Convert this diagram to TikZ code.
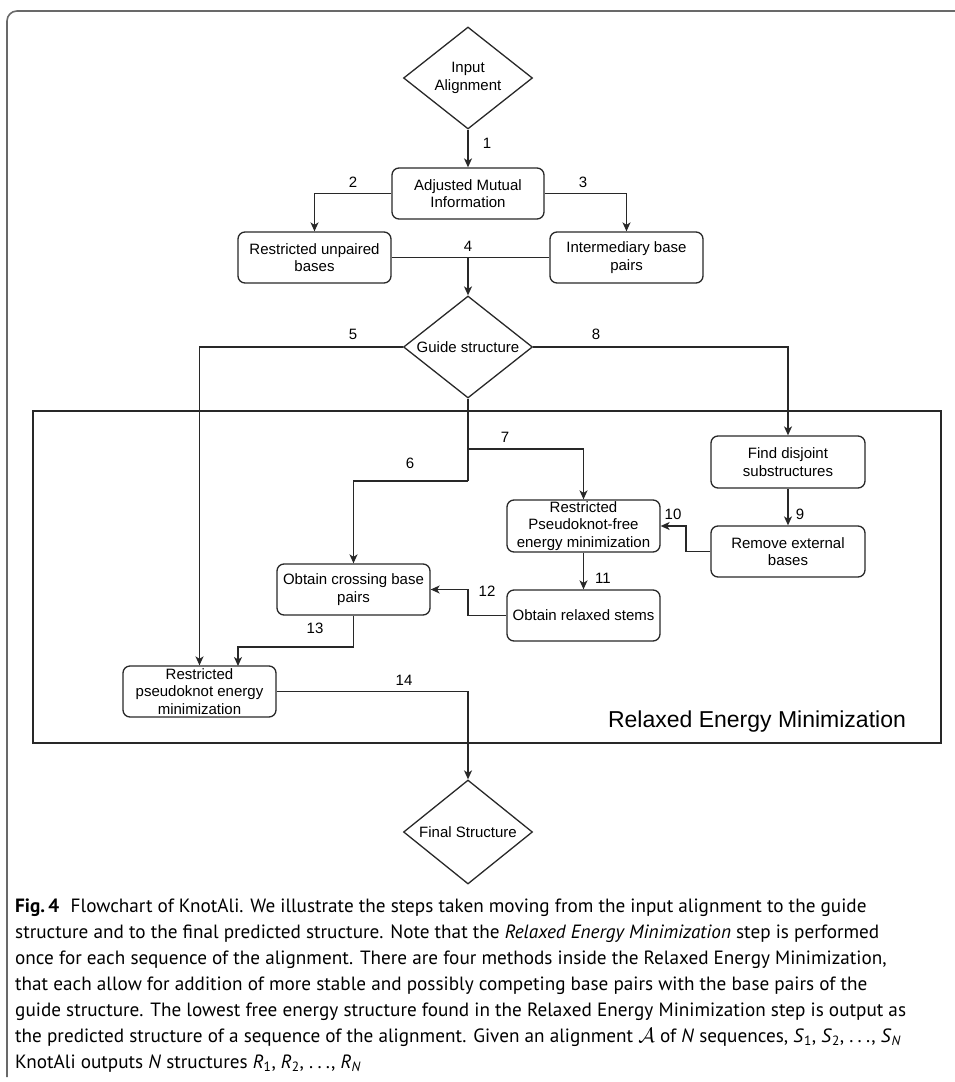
\documentclass[tikz,border=0pt]{standalone}
\usepackage{fontspec}
\setmainfont{Liberation Sans}
\newfontfamily\capfont{PT Sans}
\usetikzlibrary{shapes.geometric,arrows.meta,calc}
\definecolor{framegray}{RGB}{105,105,105}
\definecolor{boxline}{RGB}{40,40,40}
\newcommand{\spdots}{.\kern0.22em.\kern0.22em.}
\begin{document}
\begin{tikzpicture}[x=1pt,y=-1pt,
  every node/.style={font=\fontsize{15}{17.7}\selectfont},
  box/.style={draw=boxline, rounded corners=7pt, line width=1.3pt, minimum width=153pt, minimum height=51pt, align=center, inner sep=0pt},
  dia/.style={draw=boxline, diamond, shape aspect=1.265, line width=1.3pt, minimum width=129pt, minimum height=102pt, align=center, inner sep=0pt},
  conn/.style={line width=1.3pt, draw=boxline},
  arr/.style={conn, -{Stealth[length=9pt,width=8pt,inset=2.5pt]}},
  lbl/.style={inner sep=0pt},
  captext/.style={inner sep=0pt, anchor=base west, font=\capfont\fontsize{19.2}{23}\selectfont},
]
\useasboundingbox (0,0) rectangle (955,1082);
% outer frame
\draw[framegray, line width=1.6pt, rounded corners=10pt] (7,1077) -- (7,11) -- (970,11);
% inner frame
\node[draw=boxline, line width=1.3pt, minimum width=908pt, minimum height=332pt, inner sep=0pt] (rem) at (487,577) {};
\node[lbl, font=\fontsize{23}{26}\selectfont, anchor=base] (remlbl) at (757,727) {Relaxed Energy Minimization};

% nodes
\node[dia] (inA) at (468,78) {Input\\Alignment};
\node[box, minimum width=152pt] (ami) at (468,193.5) {Adjusted Mutual\\Information};
\node[box] (rub) at (314.5,257.5) {Restricted unpaired\\bases};
\node[box] (ibp) at (626.5,257.5) {Intermediary base\\pairs};
\node[dia] (guide) at (468,347) {Guide structure};
\node[box, minimum width=154pt, minimum height=52pt] (fds) at (788,462) {Find disjoint\\substructures};
\node[box, minimum width=154pt] (reb) at (788,551.5) {Remove external\\bases};
\node[box, minimum height=52pt] (pkf) at (583.5,526) {Restricted\\Pseudoknot-free\\energy minimization};
\node[box] (ors) at (583.5,615.5) {Obtain relaxed stems};
\node[box] (ocb) at (353.5,589.5) {Obtain crossing base\\pairs};
\node[box] (rpem) at (199.5,691.5) {Restricted\\pseudoknot energy\\minimization};
\node[dia, minimum height=104pt] (final) at (468,832) {Final Structure};

% helper coordinates
\coordinate (j4) at (468,257.5);
\coordinate (b7) at (468,449);
\coordinate (b6) at (468,481);
\coordinate (k10) at (686,551.5);
\coordinate (k12) at (468,615.5);
\coordinate (k13) at (238,647);
\coordinate (t13) at (238,666);

% connectors
\draw[arr] (inA.south) -- (ami.north);
\draw[arr] (ami.west) -| (rub.north);
\draw[arr] (ami.east) -| (ibp.north);
\draw[conn] (rub.east) -- (ibp.west);
\draw[arr] (j4) -- (guide.north);
\draw[arr] (guide.west) -| (rpem.north);
\draw[arr] (guide.east) -| (fds.north);
\draw[conn] (guide.south) -- (b6);
\draw[arr] (b7) -| (pkf.north);
\draw[arr] (b6) -| (ocb.north);
\draw[arr] (fds.south) -- (reb.north);
\draw[arr] (reb.west) -- (k10) |- (pkf.east);
\draw[arr] (pkf.south) -- (ors.north);
\draw[arr] (ors.west) -- (k12) |- (ocb.east);
\draw[arr] (ocb.south) |- (k13) -- (t13);
\draw[arr] (rpem.east) -| (final.north);

% connector labels
\node[lbl] (l1) at (487,143) {1};
\node[lbl] (l2) at (353,182) {2};
\node[lbl] (l3) at (583,182) {3};
\node[lbl] (l4) at (468,246) {4};
\node[lbl] (l5) at (353,334) {5};
\node[lbl] (l8) at (596,334) {8};
\node[lbl] (l7) at (505,437) {7};
\node[lbl] (l6) at (410,463) {6};
\node[lbl] (l9) at (800,514) {9};
\node[lbl] (l10) at (673,514) {10};
\node[lbl] (l11) at (603,578) {11};
\node[lbl] (l12) at (487,591) {12};
\node[lbl] (l13) at (315,628) {13};
\node[lbl] (l14) at (404,680) {14};

% caption
\node[captext] (cap1) at (15,912) {\textbf{Fig.\,4}\hspace{0.6em}Flowchart of KnotAli. We illustrate the steps taken moving from the input alignment to the guide};
\node[captext] (cap2) at (15,938) {structure and to the final predicted structure. Note that the \textit{Relaxed Energy Minimization} step is performed};
\node[captext] (cap3) at (15,964) {once for each sequence of the alignment. There are four methods inside the Relaxed Energy Minimization,};
\node[captext] (cap4) at (15,990) {that each allow for addition of more stable and possibly competing base pairs with the base pairs of the};
\node[captext] (cap5) at (15,1016) {guide structure. The lowest free energy structure found in the Relaxed Energy Minimization step is output as};
\node[captext] (cap6) at (15,1042) {the predicted structure of a sequence of the alignment. Given an alignment $\mathcal{A}$ of \textit{N} sequences, \textit{S}\textsubscript{1}, \textit{S}\textsubscript{2}, \spdots, \textit{S}\textsubscript{\textit{N}}};
\node[captext] (cap7) at (15,1068) {KnotAli outputs \textit{N} structures \textit{R}\textsubscript{1}, \textit{R}\textsubscript{2}, \spdots, \textit{R}\textsubscript{\textit{N}}};
\end{tikzpicture}
\end{document}
